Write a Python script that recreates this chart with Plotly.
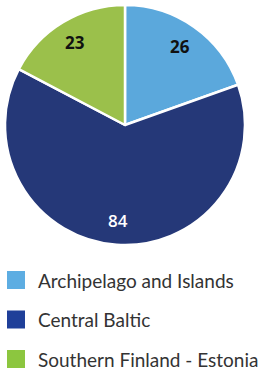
import math
import plotly.graph_objects as go

labels = ["Archipelago and Islands", "Central Baltic", "Southern Finland - Estonia"]
values = [26, 84, 23]
slice_colors = ["#5BA8DC", "#253878", "#9BC04B"]
legend_colors = ["#5DADE2", "#1F3F99", "#8CC63F"]
text_colors = ["#111111", "#FFFFFF", "#111111"]
text_weights = [700, 600, 700]

W, H = 260, 371
CX, CY, R = 125, 125, 120  # pie centre and radius in pixels
fig = go.Figure()
fig.add_trace(go.Pie(
    labels=labels, values=values, sort=False, direction="clockwise", rotation=0,
    marker=dict(colors=slice_colors, line=dict(color="white", width=2.5)),
    textinfo="none",
    domain=dict(x=[(CX - R) / W, (CX + R) / W], y=[1 - (CY + R) / H, 1 - (CY - R) / H]),
    hoverinfo="label+value", showlegend=False,
))

annotations = []
total = sum(values)
cum = 0
for v, tc, tw in zip(values, text_colors, text_weights):
    mid = (cum + v / 2) / total * 2 * math.pi
    cum += v
    px = CX + 0.8 * R * math.sin(mid)
    py = CY - 0.8 * R * math.cos(mid)
    annotations.append(dict(text=str(v), xref="paper", yref="paper", x=px / W, y=1 - py / H,
                            xanchor="center", yanchor="middle", showarrow=False,
                            font=dict(family="Open Sans", size=17, color=tc, weight=tw)))

ys = [280, 319.5, 359]
shapes = []
for lab, col, yc in zip(labels, legend_colors, ys):
    shapes.append(dict(type="rect", xref="paper", yref="paper",
                       x0=7 / W, x1=25 / W, y0=1 - (yc + 9) / H, y1=1 - (yc - 9) / H,
                       fillcolor=col, line=dict(width=0)))
    annotations.append(dict(text=lab, xref="paper", yref="paper", x=36 / W, y=1 - yc / H,
                            xanchor="left", yanchor="middle", showarrow=False,
                            font=dict(family="Lato", size=19, color="#333333")))

fig.update_layout(width=W, height=H, margin=dict(l=0, r=0, t=0, b=0),
                  paper_bgcolor="white", plot_bgcolor="white",
                  shapes=shapes, annotations=annotations)
fig.write_html("out.html", config={"displayModeBar": False},
               post_script="document.body.style.margin='0';")
